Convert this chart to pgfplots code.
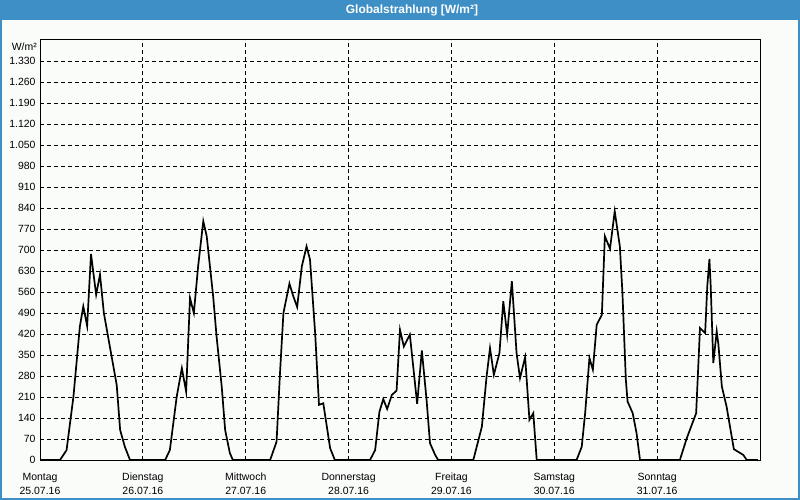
\documentclass[border=0pt]{standalone}
\usepackage{fontspec}
\setmainfont{Liberation Sans}
\usepackage{pgfplots}
\pgfplotsset{compat=1.18}
\definecolor{barblue}{HTML}{3D8FC6}
\definecolor{bgc}{HTML}{FAFCFA}
\begin{document}
\begin{tikzpicture}
\fill[bgc] (0bp,0bp) rectangle (800bp,500bp);
\fill[barblue] (0bp,480bp) rectangle (800bp,500bp);
\draw[barblue, line width=2bp] (1bp,1bp) rectangle (799bp,499bp);
\node[text=white, font=\bfseries\fontsize{12}{14}\selectfont] at (412bp,490bp) {Globalstrahlung [W/m²]};
\node[anchor=east, font=\fontsize{10.5}{12.5}\selectfont, inner sep=0pt] at (37bp,453bp) {W/m²};
\begin{axis}[
  at={(40bp,40bp)}, anchor=south west,
  scale only axis, width=720bp, height=420bp,
  xmin=0, xmax=168, ymin=0, ymax=1400,
  xtick={0,24,48,72,96,120,144},
  xticklabels={{Montag\\25.07.16},{Dienstag\\26.07.16},{Mittwoch\\27.07.16},{Donnerstag\\28.07.16},{Freitag\\29.07.16},{Samstag\\30.07.16},{Sonntag\\31.07.16}},
  ytick={0,70,140,210,280,350,420,490,560,630,700,770,840,910,980,1050,1120,1190,1260,1330},
  yticklabels={0,70,140,210,280,350,420,490,560,630,700,770,840,910,980,{1.050},{1.120},{1.190},{1.260},{1.330}},
  grid=major,
  major grid style={black, dash pattern=on 4bp off 3bp, line width=0.8bp},
  major tick length=0pt,
  axis line style={black, line width=1bp},
  ticklabel style={font=\fontsize{10.5}{14}\selectfont},
  every x tick label/.append style={align=center, anchor=north, inner ysep=0pt, yshift=-13bp},
  yticklabel style={xshift=-1bp},
  /pgf/number format/assume math mode=true,
  clip=false,
]
\addplot[black, line width=1.7bp, mark=none] coordinates {
(0,0) (4.67,0) (6.2,33) (7.8,211) (9.3,445) (10.1,512) (11.0,447) (11.9,687) (13.1,551) (14.0,618) (14.9,490) (17.9,250) (18.7,100) (19.8,44) (21.0,0)
(29.2,0) (30.3,33) (31.9,211) (33.1,306) (34.1,228) (35.0,540) (35.9,490) (36.9,646) (38.1,796) (38.9,746) (40.4,546) (41.2,412) (42.4,245) (43.2,100) (44.3,23) (45.0,0)
(53.7,0) (55.2,61) (56.0,290) (56.8,490) (58.2,588) (59.1,546) (60.0,510) (61.1,646) (62.2,712) (63.0,668) (64.2,423) (65.1,184) (66.1,189) (67.7,39) (68.8,0)
(77.0,0) (78.2,33) (79.2,161) (80.1,203) (81.0,170) (82.1,217) (83.2,231) (84.0,434) (84.9,378) (86.3,418) (88.0,187) (89.1,365) (90.2,200) (91.0,56) (92.2,17) (92.9,0)
(101.1,0) (101.9,44) (103.1,111) (104.2,278) (105.0,373) (105.9,284) (107.2,356) (108.1,529) (109.0,418) (110.1,596) (111.2,356) (112.0,273) (113.2,343) (114.2,134) (115.1,156) (115.9,0)
(125.2,0) (126.4,44) (127.2,156) (128.2,340) (129.0,301) (129.9,451) (131.1,484) (131.8,746) (133.0,704) (134.1,829) (135.3,712) (135.9,557) (136.7,267) (137.1,195) (138.3,156) (139.2,89) (140.0,0)
(149.3,0) (150.9,72) (153.1,156) (154.0,440) (155.2,423) (155.7,579) (156.2,670) (156.5,579) (157.1,323) (157.9,429) (158.3,384) (159.1,245) (160.2,178) (161.9,36) (164.1,17) (164.9,0) (167.5,0)
};
\end{axis}
\end{tikzpicture}
\end{document}
